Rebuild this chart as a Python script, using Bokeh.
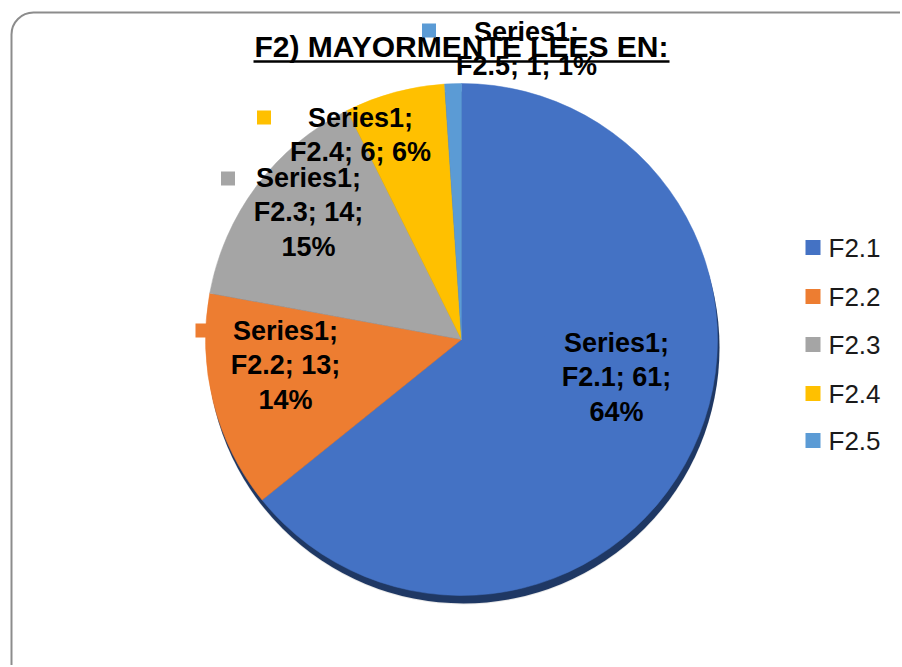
import numpy as np
from bokeh.plotting import figure
from bokeh.models import Range1d, ColumnDataSource
from bokeh.core.properties import value
from bokeh.embed import file_html
from bokeh.resources import INLINE

# ---------------- data ----------------
chart_title = "F2) MAYORMENTE LEES EN:"
series_name = "Series1"
categories = ["F2.1", "F2.2", "F2.3", "F2.4", "F2.5"]
counts = [61, 13, 14, 6, 1]
percents = [64, 14, 15, 6, 1]
colors = ["#4472C4", "#ED7D31", "#A5A5A5", "#FFC000", "#5B9BD5"]

# ---------------- layout (screen px of the page) ----------------
W, H = 900, 665
OX, OY = 0, 0  # figure origin on the page
def X(sx):
    return sx - OX
def Y(sy):
    return H - (sy - OY)
def TB(baseline, fs):
    # compensate the renderer's baseline offset
    return Y(baseline - 0.365 * fs)

FONT = value("Liberation Sans")

p = figure(width=W, height=H, x_range=Range1d(0, W), y_range=Range1d(0, H),
           output_backend="svg", toolbar_location=None, min_border=0,
           x_axis_type=None, y_axis_type=None)
p.grid.visible = False
p.outline_line_color = None
p.background_fill_color = "white"
p.border_fill_color = "white"

# chart area frame (rounded, runs off right/bottom)
p.quad(left=[X(11)], right=[X(1000)], top=[Y(12)], bottom=[Y(900)],
       fill_color="white", line_color="#8c8c8c", line_width=2, border_radius=22)

# pie geometry
cx, cy, r = X(461), Y(339), 256
total = sum(counts)
cum = np.concatenate([[0.0], np.cumsum(counts)]) / total
starts = np.pi / 2 - 2 * np.pi * cum[:-1]
ends = np.pi / 2 - 2 * np.pi * cum[1:]

# shadow
p.circle(x=[cx + 2], y=[cy - 9], radius=r, fill_color="#d9d9d9", fill_alpha=0.6, line_color=None)
p.circle(x=[cx + 2], y=[cy - 8], radius=r, fill_color="#1F3864", line_color=None)

src = ColumnDataSource(dict(cat=categories, start=starts, end=ends, color=colors))
p.wedge(x=cx, y=cy, radius=r, start_angle="start", end_angle="end",
        direction="clock", fill_color="color", line_color="color", line_width=0.5,
        source=src)

# title with underline
TFS = 30
p.text(x=[X(461)], y=[TB(57, TFS)], text=[chart_title], text_font=FONT,
       text_font_style="bold", text_font_size=f"{TFS}px", text_align="center",
       text_baseline="alphabetic", text_color="black")
p.segment(x0=[X(253)], y0=[Y(61)], x1=[X(669)], y1=[Y(61)], line_color="black", line_width=2.5)

# data labels
LFS = 27
label_center_x = [616, 285, 308, 360, 526]
label_first_baseline = [352, 340, 187, 127, 41]
two_line = [False, False, False, True, True]
line_step = 34.5
key_pos = [(537, 343), (202, 330), (227.5, 178), (263.5, 117), (428.5, 30)]

lx, ly, lt = [], [], []
for i, cat in enumerate(categories):
    if two_line[i]:
        lines = [f"{series_name};", f"{cat}; {counts[i]}; {percents[i]}%"]
    else:
        lines = [f"{series_name};", f"{cat}; {counts[i]};", f"{percents[i]}%"]
    for j, ln in enumerate(lines):
        lx.append(X(label_center_x[i]))
        ly.append(TB(label_first_baseline[i] + j * line_step, LFS))
        lt.append(ln)

p.scatter(x=[X(k[0]) for k in key_pos], y=[Y(k[1]) for k in key_pos], marker="square",
          size=14, fill_color=colors, line_color=None)
p.text(x=lx, y=ly, text=lt, text_font=FONT, text_font_style="bold",
       text_font_size=f"{LFS}px", text_align="center", text_baseline="alphabetic",
       text_color="black")

# legend
GFS = 26
leg_y = [247, 296, 344, 393, 440]
p.scatter(x=[X(812.5)] * len(categories), y=[Y(v) for v in leg_y], marker="square",
          size=15, fill_color=colors, line_color=None)
p.text(x=[X(828)] * len(categories), y=[TB(v + 9.5, GFS) for v in leg_y], text=categories,
       text_font=FONT, text_font_size=f"{GFS}px", text_align="left",
       text_baseline="alphabetic", text_color="#1a1a1a")

open("out.html", "w").write(file_html(p, INLINE))
